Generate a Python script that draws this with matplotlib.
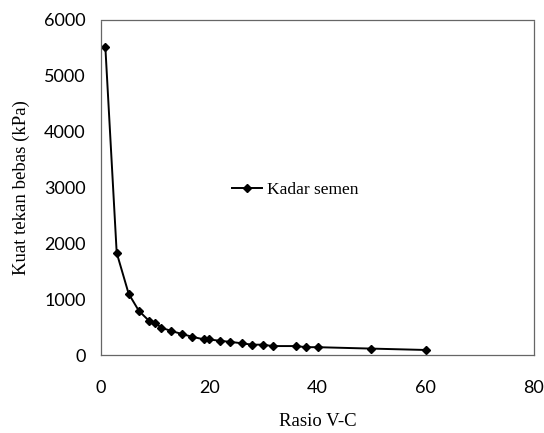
import matplotlib.pyplot as plt

# Data
rasio_vc = [0.8, 2.9, 5.1, 7.0, 8.9, 10.0, 11.1, 13.0, 15.0, 16.9, 19.0, 19.9,
            21.9, 23.9, 26.0, 27.9, 29.9, 31.7, 36.0, 37.9, 40.0, 49.8, 60.0]
kuat_tekan = [5520, 1830, 1100, 790, 610, 580, 490, 430, 375, 325, 280, 280,
              255, 235, 210, 185, 185, 160, 160, 140, 140, 115, 90]

serif = 'Liberation Serif'

fig = plt.figure(figsize=(5.44, 4.33), dpi=100)
ax = fig.add_axes([101 / 544, 1 - 355 / 433, 433 / 544, 335 / 433])

line, = ax.plot(rasio_vc, kuat_tekan, color='black', linewidth=1.4,
                marker='D', markersize=4.5, label='Kadar semen')

ax.set_xlim(0, 80)
ax.set_ylim(0, 6000)
ax.set_xticks([0, 20, 40, 60, 80])
ax.set_yticks(range(0, 6001, 1000))

for spine in ax.spines.values():
    spine.set_color('#666666')
    spine.set_linestyle((0, (1, 1)))
    spine.set_linewidth(0.9)

ax.tick_params(axis='y', length=0, pad=11, labelsize=13)
ax.tick_params(axis='x', length=0, pad=18, labelsize=13)
for lab in ax.get_xticklabels() + ax.get_yticklabels():
    lab.set_family('Lato')

ax.set_xlabel('Rasio V-C', family=serif, fontsize=13.5, labelpad=12)
ax.set_ylabel('Kuat tekan bebas (kPa)', family=serif, fontsize=13.5, labelpad=10)

ax.legend(handles=[line], loc='center left', frameon=False,
          bbox_to_anchor=(232 / 544, 1 - 190 / 433), bbox_transform=fig.transFigure,
          prop={'family': serif, 'size': 12.5}, handlelength=1.7,
          handletextpad=0.3, borderpad=0, borderaxespad=0)

fig.savefig('out.png', dpi=100)
